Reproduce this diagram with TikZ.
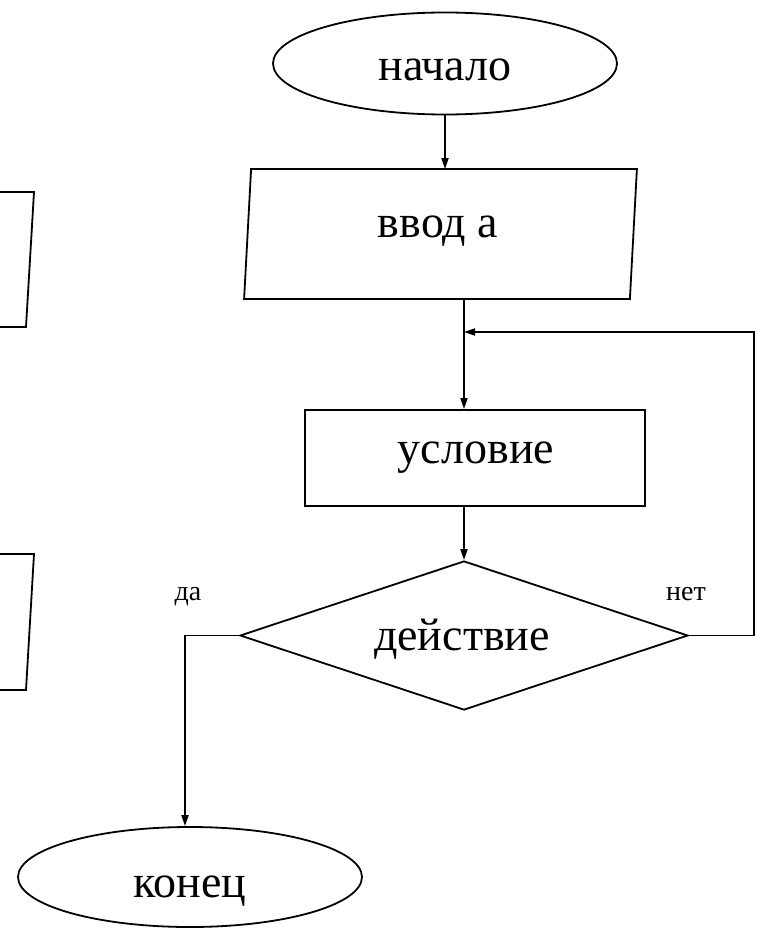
\documentclass[tikz,border=0pt]{standalone}
\usepackage{fontspec}
\setmainfont{Liberation Serif}
\usetikzlibrary{shapes.geometric,arrows.meta}
\begin{document}
\begin{tikzpicture}[x=1pt,y=-1pt,
  line width=1.8pt,
  terminal/.style={draw, ellipse, minimum width=344pt, minimum height=102pt, inner sep=0pt},
  process/.style={draw, rectangle, minimum width=340pt, minimum height=96pt, inner sep=0pt},
  decision/.style={draw, diamond, minimum width=448pt, minimum height=149pt, inner sep=0pt},
  frame/.style={minimum width=384pt, minimum height=128pt, inner sep=0pt},
  caption/.style={font=\fontsize{46}{50}\selectfont, inner sep=0pt, anchor=base},
  small/.style={font=\fontsize{28}{30}\selectfont, inner sep=0pt, anchor=base},
  flow/.style={-{Triangle[length=11pt,width=7pt]}},
]
\useasboundingbox (0,0) rectangle (756,928);
\begin{scope}
\clip (0,0) rectangle (756,928);

% fragments of input blocks at the left edge
\draw (-5,192) -- (34,192) -- (26,327) -- (-5,327);
\draw (-5,554) -- (34,554) -- (26,690) -- (-5,690);

% blocks
\node[terminal] (start) at (445,63.5) {};
\node[caption] (start-text) at (445,81) {начало};

\node[frame] (in) at (440.5,234) {};
\draw ([xshift=3.5pt]in.north west) -- ([xshift=3.5pt]in.north east)
   -- ([xshift=-3.5pt]in.south east) -- ([xshift=-3.5pt]in.south west) -- cycle;
\node[caption] (in-text) at (438,237) {ввод а};

\node[process] (cond) at (475,458) {};
\node[caption] (cond-text) at (476,463) {условие};

\node[decision] (dec) at (464,635.5) {};
\node[caption] (dec-text) at (462,650) {действие};

\node[terminal, minimum height=100pt] (end) at (190,877) {};
\node[caption] (end-text) at (190,897) {конец};

\node[small] (yes-label) at (188,600) {да};
\node[small] (no-label) at (686,600) {нет};

% connectors
\coordinate (join) at (464,332);
\coordinate (back) at (754,332);
\coordinate (yes) at (185,635.5);

\draw[flow] (start.south) -- (start.south |- in.north);
\draw (in.south -| join) -- (join);
\draw[flow] (join) -- (join |- cond.north);
\draw[flow] (dec.north |- cond.south) -- (dec.north);
\draw[flow] (dec.east) -| (back) -- (join);
\draw[flow] (dec.west) -- (yes) -- (yes |- end.north);
\end{scope}
\end{tikzpicture}
\end{document}
